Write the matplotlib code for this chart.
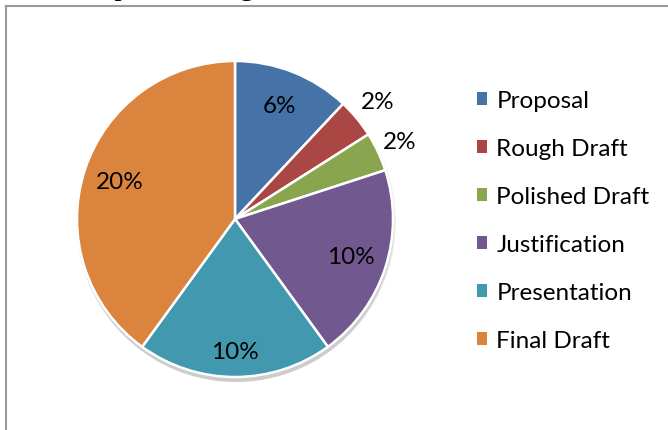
import matplotlib
matplotlib.use('Agg')
import numpy as np
import matplotlib.pyplot as plt
from matplotlib.patches import Patch, Circle
from matplotlib.lines import Line2D

# data
categories = ['Proposal', 'Rough Draft', 'Polished Draft', 'Justification',
              'Presentation', 'Final Draft']
values = [6, 2, 2, 10, 10, 20]
labels = ['%d%%' % v for v in values]
colors = ['#4572A7', '#AA4643', '#89A54E', '#71588F', '#4198AF', '#DB843D']
title = 'Group Percentage'

W, H = 668, 431
fig = plt.figure(figsize=(W / 100., H / 100.), dpi=100)
ax = fig.add_axes([0, 0, 1, 1])
ax.set_xlim(0, W)
ax.set_ylim(0, H)
ax.set_aspect('equal')
ax.axis('off')

cx, cy, r = 235, H - 220, 158

# soft shadow under the pie
for i, a in enumerate([0.05, 0.05, 0.05, 0.06]):
    ax.add_patch(Circle((cx + 1, cy - 3 - i), r + 2 - i, color='black',
                        alpha=a, lw=0, zorder=0))

wedges, _ = ax.pie(values, colors=colors, startangle=90, counterclock=False,
                   center=(cx, cy), radius=r, frame=True,
                   wedgeprops=dict(edgecolor='white', linewidth=1.8))
ax.set_xlim(0, W)
ax.set_ylim(0, H)
ax.axis('off')

lab_dist = [0.77, 1.17, 1.15, 0.77, 0.84, 0.77]
for w, lab, d in zip(wedges, labels, lab_dist):
    th = np.deg2rad((w.theta1 + w.theta2) / 2.)
    ax.text(cx + d * r * np.cos(th), cy + d * r * np.sin(th), lab,
            ha='center', va='center', fontsize=17.5, family='Lato', color='black')

handles = [Patch(facecolor=c, edgecolor='none') for c in colors]
leg = ax.legend(handles, categories, loc='upper left',
                bbox_to_anchor=(477. / W, 1 - 91. / H), frameon=False,
                prop=dict(family='Lato', size=17.5), handlelength=0.42,
                handleheight=0.42, handletextpad=0.38, labelspacing=1.11,
                borderpad=0, borderaxespad=0)

# chart border and cut-off title
fig.add_artist(Line2D([6. / W, 6. / W], [0, 1 - 7. / H], color='#9a9a9a', lw=1.5))
fig.add_artist(Line2D([6. / W, 1], [1 - 7. / H, 1 - 7. / H], color='#9a9a9a', lw=1.5))
fig.text(53. / W, 1 + 5. / H, title, family='Liberation Serif', fontsize=21.5,
         va='baseline', ha='left', color='black')

fig.savefig('out.png', dpi=100)
